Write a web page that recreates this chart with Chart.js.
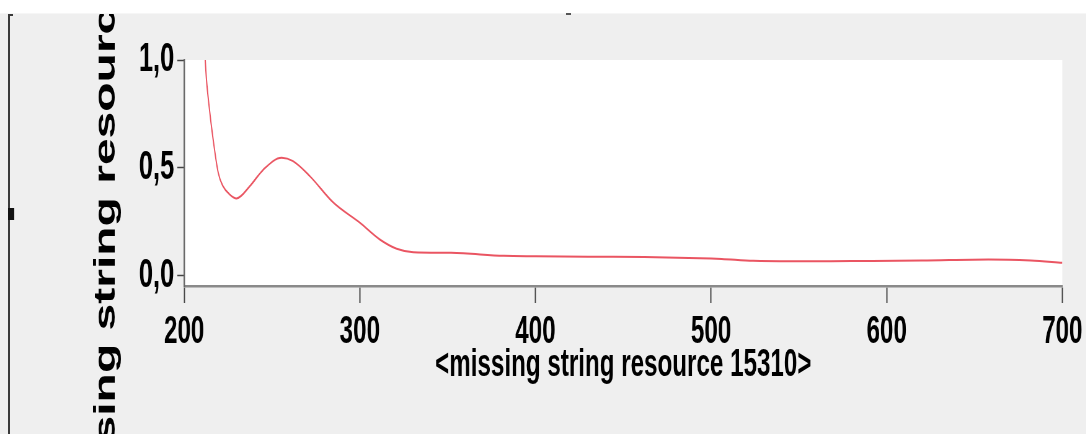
<!DOCTYPE html>
<html>
<head>
<meta charset="utf-8">
<script src="https://cdn.jsdelivr.net/npm/chart.js@4/dist/chart.umd.min.js"></script>
<style>
  html, body { margin: 0; padding: 0; background: #ffffff; overflow: hidden; }
  #outer { width: 1086px; height: 434px; overflow: hidden; position: relative; }
  /* the reference is a horizontally squeezed screenshot: draw wide, then squeeze */
  #wrap { width: 1752px; height: 434px; transform: scaleX(0.62); transform-origin: 0 0; position: absolute; left: 0; top: 0; }
</style>
</head>
<body>
<div id="outer"><div id="wrap"><canvas id="c"></canvas></div></div>
<script>
// ---- data ----
const wavelength = [212, 212.7, 214.2, 216.5, 219.4, 222.1, 226, 229.8, 237.4, 245, 255.5, 262, 271.6, 285, 300, 311.4, 321, 330.5, 352, 382, 400, 430, 462, 500, 506, 524, 546, 580, 620, 658, 682, 700];
const absorbance = [1.0, 0.91, 0.786, 0.631, 0.476, 0.414, 0.375, 0.357, 0.414, 0.49, 0.546, 0.53, 0.46, 0.337, 0.244, 0.166, 0.123, 0.107, 0.104, 0.09, 0.088, 0.086, 0.085, 0.078, 0.076, 0.067, 0.065, 0.066, 0.068, 0.073, 0.068, 0.058];
const xTickValues = [200, 300, 400, 500, 600, 700];
const yTickValues = [0.0, 0.5, 1.0];
const yTickLabels = ['0,0', '0,5', '1,0'];
const xTitle = '<missing string resource 15310>';
const yTitle = '<missing string resource 15310>';

const FONT = "'Liberation Sans', Arial, Helvetica, sans-serif";

const backdrop = {
  id: 'backdrop',
  beforeDraw(chart) {
    const {ctx, width, height, chartArea} = chart;
    ctx.save();
    ctx.fillStyle = '#efefef';
    ctx.fillRect(0, 0, width, height);
    ctx.fillStyle = '#ffffff';
    ctx.fillRect(chartArea.left, chartArea.top, chartArea.right - chartArea.left, chartArea.bottom - chartArea.top);
    ctx.restore();
  },
  afterDraw(chart) {
    const {ctx, width, height} = chart;
    ctx.save();
    // white strip above the window frame (clips the overflowing axis title)
    ctx.fillStyle = '#ffffff';
    ctx.fillRect(0, 0, width, 14);
    ctx.fillStyle = '#f6f6f6';
    ctx.fillRect(0, 13, width, 1);
    // window frame remnants
    ctx.fillStyle = '#3a3a3a';
    ctx.fillRect(13, 14, 3, height - 14);
    ctx.fillRect(13, 14, 8, 2);
    ctx.fillStyle = '#111111';
    ctx.fillRect(13, 208, 10, 12);
    ctx.fillStyle = '#555555';
    ctx.fillRect(913, 13, 8, 2);
    ctx.restore();
  }
};

new Chart(document.getElementById('c'), {
  type: 'line',
  data: {
    datasets: [{
      data: wavelength.map((x, i) => ({x, y: absorbance[i]})),
      borderColor: '#ea5562',
      borderWidth: 2,
      pointRadius: 0,
      tension: 0.4,
      cubicInterpolationMode: 'monotone',
      fill: false
    }]
  },
  options: {
    responsive: true,
    maintainAspectRatio: false,
    animation: false,
    devicePixelRatio: 1,
    layout: { padding: { top: 60, right: 30, left: 0, bottom: 0 } },
    plugins: { legend: { display: false }, tooltip: { enabled: false } },
    scales: {
      x: {
        type: 'linear',
        min: 200,
        max: 700,
        afterBuildTicks: s => { s.ticks = xTickValues.map(v => ({value: v})); },
        afterFit: s => { s.height = 148; },
        ticks: {
          color: '#000',
          padding: 6,
          maxRotation: 0,
          autoSkip: false,
          font: { family: FONT, size: 39, weight: 'bold' },
          callback: v => String(v)
        },
        grid: { drawOnChartArea: false, tickLength: 17, tickColor: '#444', tickWidth: 2 },
        border: { display: true, color: '#8a8a8a', width: 2.5 },
        title: {
          display: true,
          text: xTitle,
          color: '#000',
          font: { family: FONT, size: 39, weight: 'bold' },
          padding: { top: 0, bottom: 45 }
        }
      },
      y: {
        type: 'linear',
        min: -0.05,
        max: 1.0,
        afterBuildTicks: s => { s.ticks = yTickValues.map(v => ({value: v})); },
        afterFit: s => { s.width = 297; },
        ticks: {
          color: '#000',
          padding: 5,
          autoSkip: false,
          font: { family: FONT, size: 41, weight: 'bold' },
          callback: v => yTickLabels[yTickValues.findIndex(t => Math.abs(t - v) < 1e-9)]
        },
        grid: { drawOnChartArea: false, tickLength: 11, tickColor: '#444', tickWidth: 1.5 },
        border: { display: true, color: '#666666', width: 2.5 },
        title: {
          display: true,
          // a trailing space only nudges the (overflowing, clipped) title along the axis
          text: yTitle + ' ',
          color: '#000',
          font: { family: FONT, size: 48, weight: 'bold' },
          padding: { top: 143, bottom: 0 }
        }
      }
    }
  },
  plugins: [backdrop]
});
</script>
</body>
</html>
